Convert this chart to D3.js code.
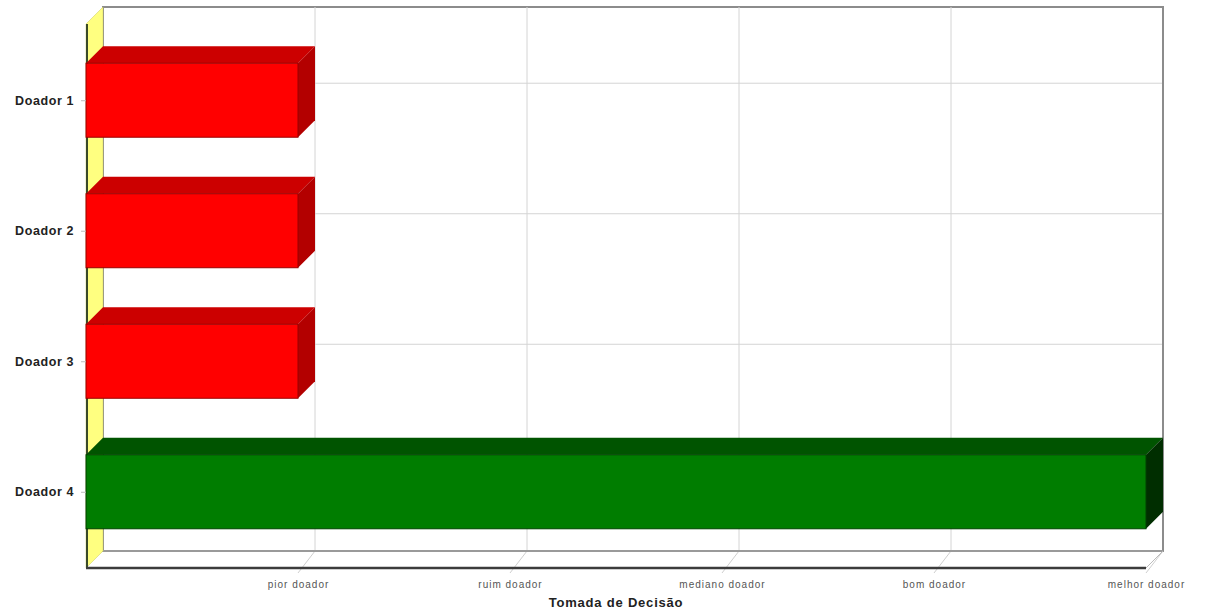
<!DOCTYPE html>
<html>
<head>
<meta charset="utf-8">
<script src="https://cdn.jsdelivr.net/npm/d3@7"></script>
<style>
  body { margin: 0; background: #fff; }
  svg { display: block; font-family: "Liberation Sans", Arial, sans-serif; }
</style>
</head>
<body>
<div id="chart"></div>
<script>
// data
var donors = ["Doador 1", "Doador 2", "Doador 3", "Doador 4"];
var scores = [1, 1, 1, 5];
var tickValues = [1, 2, 3, 4, 5];
var tickLabels = ["pior doador", "ruim doador", "mediano doador", "bom doador", "melhor doador"];
var barColors = ["red", "red", "red", "green"];

var width = 1205, height = 614;
var depth = 17;            // 3d offset
var plotLeft = 86, plotRight = 1146, plotTop = 24, plotBottom = 568;

var svg = d3.select("#chart").append("svg")
    .attr("width", width)
    .attr("height", height);

var x = d3.scaleLinear().domain([0, 5]).range([plotLeft, plotRight]);
var y = d3.scalePoint().domain(donors).range([plotTop, plotBottom]).padding(0.584);
var barH = 74;

var shades = {
    red:   {front: "#ff0000", top: "#cc0000", side: "#b30000", edge: "#990000"},
    green: {front: "#007d00", top: "#005400", side: "#002e00", edge: "#004000"}
};

function pts(a) { return a.map(function(p) { return p.join(","); }).join(" "); }

// back wall frame
svg.append("rect")
    .attr("x", plotLeft + depth).attr("y", plotTop - depth)
    .attr("width", plotRight - plotLeft).attr("height", plotBottom - plotTop)
    .attr("fill", "#fff")
    .attr("stroke", "#8c8c8c")
    .attr("stroke-width", 2);

// vertical gridlines on back wall + floor
tickValues.forEach(function(v) {
    var bx = x(v) + depth;
    svg.append("line")
        .attr("x1", bx).attr("x2", bx)
        .attr("y1", plotTop - depth).attr("y2", plotBottom - depth)
        .attr("stroke", "#d4d4d4").attr("stroke-width", 1);
    svg.append("line")
        .attr("x1", bx).attr("y1", plotBottom - depth)
        .attr("x2", x(v)).attr("y2", plotBottom + 5)
        .attr("stroke", "#cfcfcf").attr("stroke-width", 1);
});

// horizontal gridlines on back wall
donors.forEach(function(d) {
    svg.append("line")
        .attr("x1", plotLeft + depth).attr("x2", plotRight + depth)
        .attr("y1", y(d) - depth).attr("y2", y(d) - depth)
        .attr("stroke", "#d4d4d4").attr("stroke-width", 1);
});

// right back frame over grid
svg.append("line")
    .attr("x1", plotRight + depth).attr("x2", plotRight + depth)
    .attr("y1", plotTop - depth).attr("y2", plotBottom - depth)
    .attr("stroke", "#8c8c8c").attr("stroke-width", 2);

// floor edges
svg.append("line")
    .attr("x1", plotLeft + depth).attr("x2", plotRight + depth)
    .attr("y1", plotBottom - depth).attr("y2", plotBottom - depth)
    .attr("stroke", "#9a9a9a").attr("stroke-width", 2);
svg.append("line")
    .attr("x1", plotRight).attr("y1", plotBottom)
    .attr("x2", plotRight + depth).attr("y2", plotBottom - depth)
    .attr("stroke", "#bbb").attr("stroke-width", 1);

// yellow left wall
svg.append("polygon")
    .attr("points", pts([[plotLeft, plotTop], [plotLeft + depth, plotTop - depth],
        [plotLeft + depth, plotBottom - depth], [plotLeft, plotBottom]]))
    .attr("fill", "#ffff80")
    .attr("stroke", "#c8c860").attr("stroke-width", 0.5);
svg.append("line")
    .attr("x1", plotLeft + 1).attr("x2", plotLeft + 1)
    .attr("y1", plotTop).attr("y2", plotBottom)
    .attr("stroke", "#3a4a2a").attr("stroke-width", 2);

// bars
var bars = svg.selectAll(".bar")
    .data(donors.map(function(d, i) { return {name: d, value: scores[i], color: barColors[i]}; }))
    .enter().append("g")
    .attr("class", "bar");

bars.append("polygon")
    .attr("points", function(d) {
        var y0 = y(d.name) - barH / 2, x1 = x(d.value);
        return pts([[plotLeft, y0], [x1, y0], [x1 + depth, y0 - depth], [plotLeft + depth, y0 - depth]]);
    })
    .attr("fill", function(d) { return shades[d.color].top; });

bars.append("polygon")
    .attr("points", function(d) {
        var y0 = y(d.name) - barH / 2, y1 = y0 + barH, x1 = x(d.value);
        return pts([[x1, y0], [x1 + depth, y0 - depth], [x1 + depth, y1 - depth], [x1, y1]]);
    })
    .attr("fill", function(d) { return shades[d.color].side; });

bars.append("rect")
    .attr("x", plotLeft)
    .attr("y", function(d) { return y(d.name) - barH / 2; })
    .attr("width", function(d) { return x(d.value) - plotLeft; })
    .attr("height", barH)
    .attr("fill", function(d) { return shades[d.color].front; })
    .attr("stroke", function(d) { return shades[d.color].edge; })
    .attr("stroke-width", 1);

// front bottom axis line
svg.append("line")
    .attr("x1", plotLeft).attr("x2", plotRight)
    .attr("y1", plotBottom).attr("y2", plotBottom)
    .attr("stroke", "#3c3c3c").attr("stroke-width", 2.5);

// y axis labels
var yAxis = svg.append("g")
    .attr("transform", "translate(" + plotLeft + ",0)")
    .call(d3.axisLeft(y).tickSize(5).tickPadding(7));
yAxis.select(".domain").remove();
yAxis.selectAll(".tick line").attr("stroke", "#bbb");
yAxis.selectAll(".tick text")
    .attr("fill", "#222")
    .style("font-size", "12.5px")
    .style("font-weight", "bold")
    .style("letter-spacing", "0.6px");

// x axis labels
var xAxis = svg.append("g")
    .attr("transform", "translate(0," + plotBottom + ")")
    .call(d3.axisBottom(x).tickValues(tickValues)
        .tickFormat(function(d, i) { return tickLabels[i]; })
        .tickSize(0).tickPadding(13));
xAxis.select(".domain").remove();
xAxis.selectAll(".tick text")
    .attr("fill", "#555")
    .style("font-size", "10px")
    .style("letter-spacing", "1px");

svg.append("text")
    .attr("x", 616)
    .attr("y", 607)
    .attr("text-anchor", "middle")
    .attr("fill", "#222")
    .style("font-size", "13px")
    .style("font-weight", "bold")
    .style("letter-spacing", "0.8px")
    .text("Tomada de Decisão");
</script>
</body>
</html>
